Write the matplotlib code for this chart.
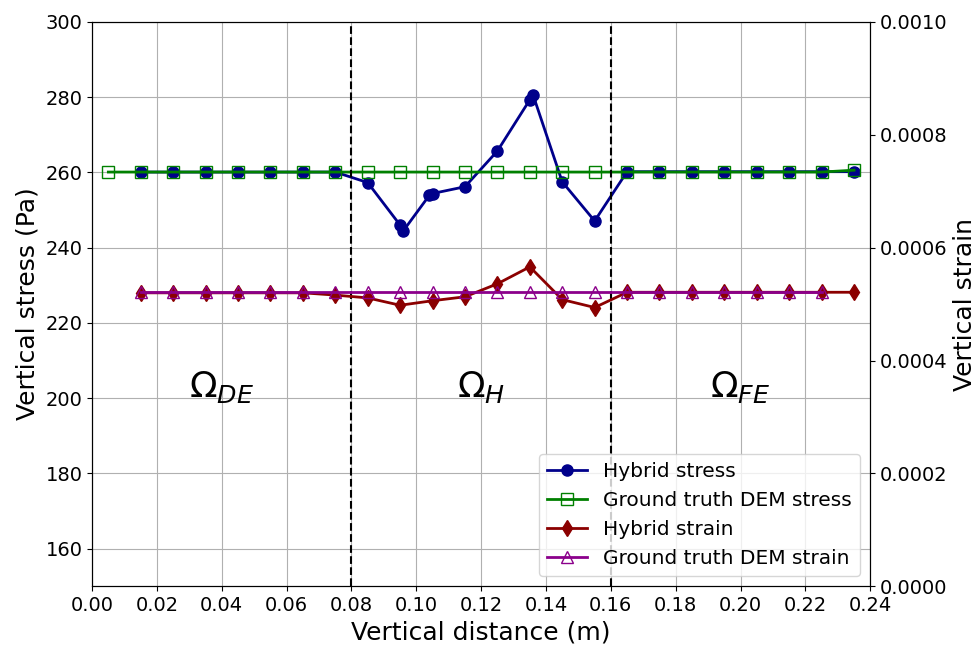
import numpy as np
import matplotlib
matplotlib.use("Agg")
import matplotlib.pyplot as plt

# hybrid model (duplicate nodes where subdomains overlap)
hyb_x = [0.015, 0.025, 0.035, 0.045, 0.055, 0.065, 0.075, 0.085, 0.095, 0.096,
         0.104, 0.105, 0.115, 0.125, 0.135, 0.136, 0.145, 0.155, 0.165, 0.175,
         0.185, 0.195, 0.205, 0.215, 0.225, 0.235]
hyb_stress = [260.1, 260.1, 260.1, 260.1, 260.1, 260.1, 260.1, 257.3, 246.0, 244.5,
              253.9, 254.4, 256.2, 265.7, 279.3, 280.6, 257.5, 247.1, 260.2, 260.2,
              260.2, 260.2, 260.2, 260.2, 260.2, 260.2]

strain_x = [0.015, 0.025, 0.035, 0.045, 0.055, 0.065, 0.075, 0.085, 0.095, 0.105,
            0.115, 0.125, 0.135, 0.145, 0.155, 0.165, 0.175, 0.185, 0.195, 0.205,
            0.215, 0.225, 0.235]
hyb_strain = [0.000520, 0.000520, 0.000520, 0.000520, 0.000520, 0.000520, 0.000516,
              0.000511, 0.000498, 0.000506, 0.000513, 0.000536, 0.000566, 0.000508,
              0.000494, 0.000521, 0.000521, 0.000521, 0.000521, 0.000521, 0.000521,
              0.000521, 0.000521]

# ground truth DEM
dem_x = [0.005, 0.015, 0.025, 0.035, 0.045, 0.055, 0.065, 0.075, 0.085, 0.095,
         0.105, 0.115, 0.125, 0.135, 0.145, 0.155, 0.165, 0.175, 0.185, 0.195,
         0.205, 0.215, 0.225, 0.235]
dem_stress = [260.1] * 23 + [260.6]
dem_strain_x = dem_x[1:-1]
dem_strain = [0.000521] * 22

plt.rcParams['font.size'] = 14
fig, ax = plt.subplots(figsize=(9.8, 6.45), dpi=100)
fig.subplots_adjust(left=0.094, right=0.888, top=0.966, bottom=0.091)
ax2 = ax.twinx()

l1, = ax.plot(hyb_x, hyb_stress, color='darkblue', marker='o', markersize=8,
              linewidth=2, label='Hybrid stress')
l2, = ax.plot(dem_x, dem_stress, color='green', marker='s', markersize=8,
              markerfacecolor='none', linewidth=2, label='Ground truth DEM stress')
l3, = ax2.plot(strain_x, hyb_strain, color='darkred', marker='d', markersize=8,
               linewidth=2, label='Hybrid strain')
l4, = ax2.plot(dem_strain_x, dem_strain, color='darkmagenta', marker='^', markersize=8,
               markerfacecolor='none', linewidth=2, label='Ground truth DEM strain')

ax.axvline(0.08, color='black', linestyle='--', linewidth=1.5)
ax.axvline(0.16, color='black', linestyle='--', linewidth=1.5)

ax.text(0.04, 203, r'$\Omega_{DE}$', fontsize=26, ha='center', va='center')
ax.text(0.12, 203, r'$\Omega_{H}$', fontsize=26, ha='center', va='center')
ax.text(0.20, 203, r'$\Omega_{FE}$', fontsize=26, ha='center', va='center')

ax.set_xlim(0, 0.24)
ax.set_ylim(150, 300)
ax.set_xticks(np.arange(0, 0.2401, 0.02))
ax.set_yticks(np.arange(160, 301, 20))
ax2.set_ylim(0, 0.001)
ax2.set_yticks(np.arange(0, 0.00101, 0.0002))
ax2.set_yticklabels(['%.4f' % t for t in np.arange(0, 0.00101, 0.0002)])
ax.grid(True)
ax.set_xlabel('Vertical distance (m)', fontsize=18)
ax.set_ylabel('Vertical stress (Pa)', fontsize=18)
ax2.set_ylabel('Vertical strain', fontsize=18)

ax2.legend([l1, l2, l3, l4], [l.get_label() for l in [l1, l2, l3, l4]],
           loc='lower right', fontsize=14.5)

fig.savefig('out.png', dpi=100)
